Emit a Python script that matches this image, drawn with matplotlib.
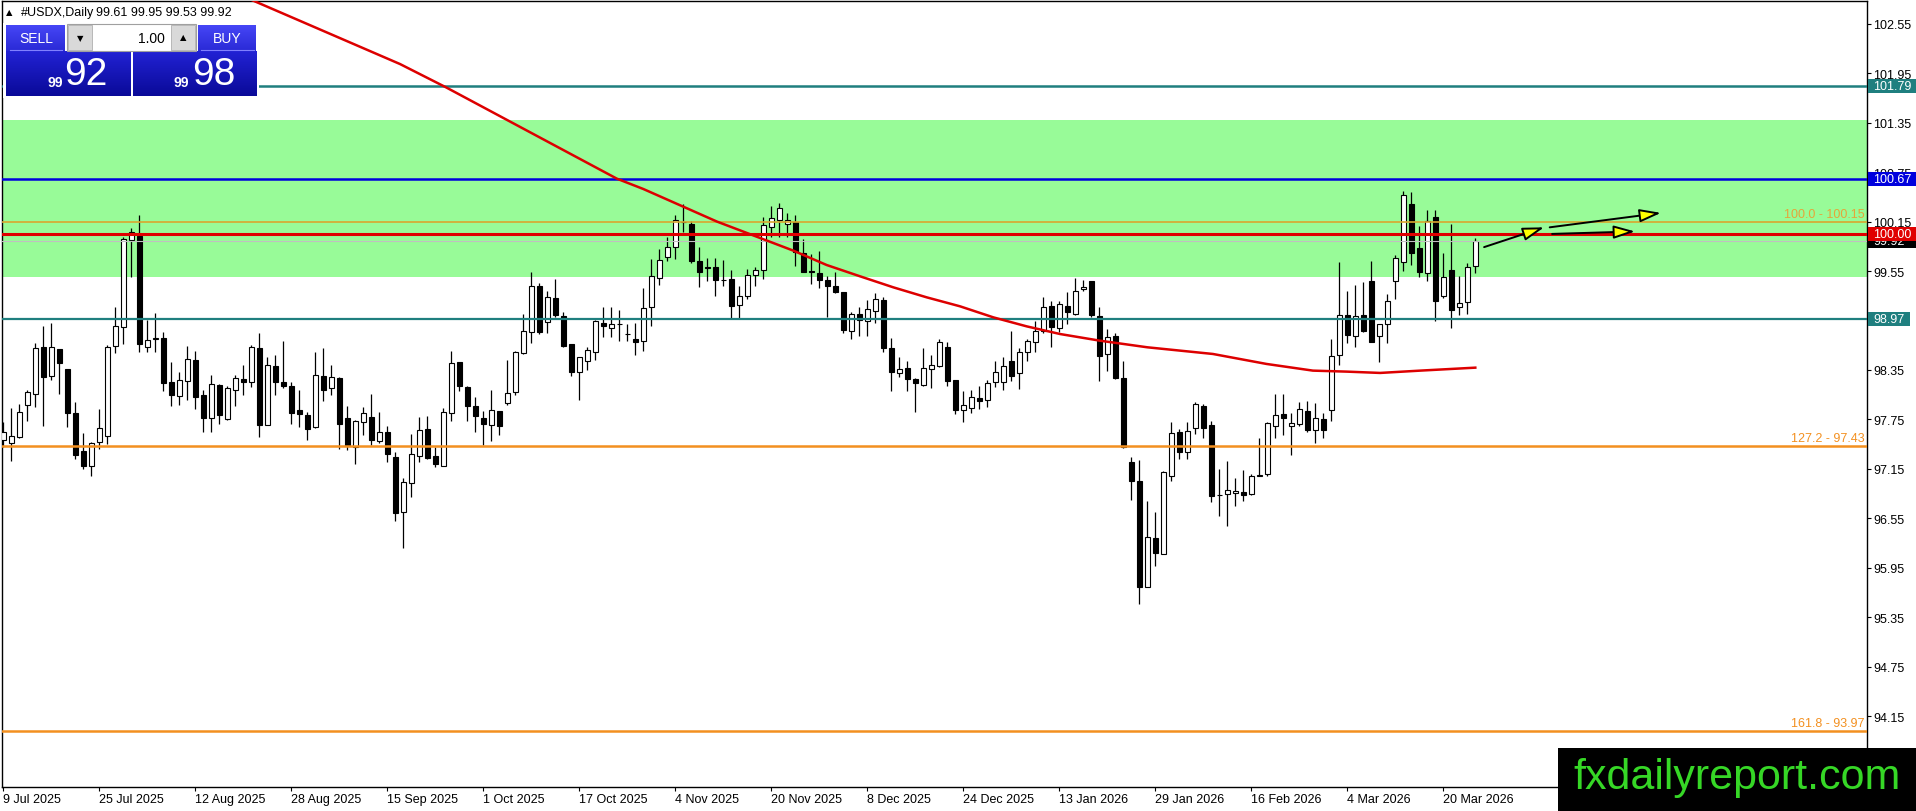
import numpy as np
import matplotlib
matplotlib.use('Agg')
import matplotlib.pyplot as plt
import matplotlib.transforms as mtransforms
from matplotlib.patches import Rectangle, FancyArrowPatch
from matplotlib.colors import LinearSegmentedColormap

plt.rcParams['font.family'] = ['Liberation Sans', 'DejaVu Sans']

# daily OHLC of #USDX, 9 Jul 2025 .. 26 Mar 2026
opens = [97.50, 97.46, 97.54, 97.93, 98.063, 98.625, 98.273, 98.604, 98.362, 97.828,
         97.367, 97.19, 97.472, 97.545, 98.637, 98.868, 99.927, 99.98, 98.625, 98.73,
         98.734, 98.20, 98.038, 98.212, 98.471, 98.046, 97.764, 98.168, 97.756, 98.111,
         98.241, 98.20, 98.613, 97.679, 98.398, 98.20, 98.156, 97.865, 97.808, 97.654,
         98.277, 98.128, 98.253, 97.764, 97.412, 97.723, 97.776, 97.493, 97.594, 97.291,
         96.624, 96.98, 97.303, 97.635, 97.303, 97.19, 97.824, 98.443, 98.14, 97.917,
         97.763, 97.687, 97.848, 97.945, 98.079, 98.552, 98.807, 99.364, 98.928, 99.219,
         99.009, 98.665, 98.321, 98.455, 98.564, 98.92, 98.855, 98.905, 98.782, 98.726,
         98.706, 99.11, 99.462, 99.724, 99.838, 100.15, 100.121, 99.668, 99.595, 99.595,
         99.445, 99.453, 99.142, 99.251, 99.502, 99.567, 100.08, 100.173, 100.121, 100.149,
         99.765, 99.545, 99.526, 99.441, 99.364, 99.30, 98.827, 99.029, 98.94, 99.069,
         99.199, 98.617, 98.309, 98.374, 98.241, 98.172, 98.362, 98.394, 98.625, 98.233,
         97.869, 97.885, 98.006, 97.99, 98.20, 98.208, 98.455, 98.309, 98.564, 98.685,
         98.819, 99.13, 98.855, 99.13, 99.029, 99.332, 99.425, 99.009, 98.544, 98.766,
         98.249, 97.23, 97.008, 95.722, 96.309, 96.119, 97.069, 97.594, 97.352, 97.643,
         97.917, 97.683, 96.83, 96.846, 96.858, 96.866, 96.846, 97.07, 97.089, 97.675,
         97.816, 97.667, 97.695, 97.849, 97.622, 97.756, 97.869, 98.536, 99.021, 98.767,
         99.021, 99.434, 98.767, 98.908, 99.426, 99.656, 100.364, 99.83, 99.523, 100.202,
         99.252, 99.563, 99.11, 99.171, 99.61]
highs = [97.72, 97.885, 97.94, 98.11, 98.677, 98.88, 98.92, 98.61, 98.362, 97.958,
         97.586, 97.48, 97.877, 98.653, 99.118, 99.96, 100.068, 100.23, 98.96, 99.041,
         98.807, 98.443, 98.321, 98.637, 98.584, 98.107, 98.289, 98.176, 98.16, 98.289,
         98.41, 98.653, 98.80, 98.503, 98.532, 98.705, 98.20, 98.107, 97.836, 98.564,
         98.612, 98.41, 98.26, 97.917, 97.74, 97.897, 98.059, 97.845, 97.667, 97.36,
         97.04, 97.574, 97.776, 97.788, 97.412, 97.885, 98.576, 98.45, 98.152, 98.018,
         97.857, 98.107, 97.85, 98.471, 98.576, 99.029, 99.534, 99.40, 99.312, 99.453,
         99.049, 98.665, 98.511, 98.625, 98.956, 99.118, 99.118, 99.082, 98.908, 98.92,
         99.34, 99.696, 99.817, 99.959, 100.234, 100.363, 100.153, 99.838, 99.704, 99.704,
         99.688, 99.567, 99.364, 99.575, 99.595, 100.201, 100.343, 100.375, 100.254, 100.23,
         99.938, 99.757, 99.797, 99.486, 99.542, 99.30, 99.057, 99.11, 99.199, 99.279,
         99.231, 98.738, 98.503, 98.455, 98.249, 98.613, 98.532, 98.726, 98.693, 98.233,
         98.099, 98.107, 98.152, 98.233, 98.463, 98.503, 98.827, 98.613, 98.726, 98.94,
         99.231, 99.191, 99.191, 99.292, 99.461, 99.445, 99.433, 99.11, 98.847, 98.799,
         98.455, 97.291, 97.263, 96.765, 96.624, 97.129, 97.715, 97.635, 97.715, 97.966,
         97.938, 97.736, 97.15, 97.251, 97.04, 97.141, 97.089, 97.525, 97.724, 98.059,
         98.059, 97.829, 97.958, 97.97, 97.95, 97.829, 98.726, 99.664, 99.312, 99.381,
         99.413, 99.668, 98.908, 99.272, 99.745, 100.517, 100.513, 100.093, 100.291, 100.291,
         99.769, 100.121, 99.486, 99.644, 99.95]
lows = [97.42, 97.24, 97.525, 97.735, 97.897, 97.675, 98.23, 98.06, 97.66, 97.27,
        97.149, 97.068, 97.392, 97.452, 98.552, 98.665, 99.482, 98.572, 98.564, 98.564,
        98.099, 97.917, 97.929, 97.99, 97.877, 97.594, 97.594, 97.695, 97.747, 97.909,
        98.046, 98.148, 97.533, 97.679, 98.046, 98.128, 97.695, 97.654, 97.505, 97.642,
        97.978, 98.046, 97.392, 97.384, 97.21, 97.561, 97.445, 97.461, 97.238, 96.523,
        96.187, 96.806, 97.238, 97.271, 97.17, 97.182, 97.727, 98.099, 97.735, 97.594,
        97.44, 97.484, 97.561, 97.929, 98.051, 98.544, 98.673, 98.783, 98.794, 98.989,
        98.625, 98.273, 97.99, 98.354, 98.475, 98.754, 98.754, 98.697, 98.697, 98.536,
        98.584, 98.887, 99.385, 99.676, 99.696, 100.019, 99.647, 99.36, 99.425, 99.251,
        99.373, 98.98, 98.98, 99.211, 99.364, 99.453, 99.959, 99.959, 99.959, 99.615,
        99.534, 99.393, 99.344, 98.989, 99.287, 98.799, 98.726, 98.758, 98.758, 98.916,
        98.564, 98.099, 98.261, 98.099, 97.836, 98.152, 98.131, 98.382, 98.16, 97.816,
        97.715, 97.828, 97.877, 97.905, 98.148, 98.107, 98.22, 98.119, 98.463, 98.572,
        98.799, 98.633, 98.807, 98.908, 99.017, 99.312, 98.989, 98.22, 98.342, 98.241,
        97.40, 96.777, 95.512, 95.714, 95.977, 96.119, 97.008, 97.271, 97.271, 97.574,
        97.525, 96.753, 96.575, 96.454, 96.705, 96.765, 96.834, 97.06, 97.069, 97.525,
        97.562, 97.323, 97.667, 97.594, 97.461, 97.525, 97.736, 98.411, 98.674, 98.633,
        98.807, 98.686, 98.451, 98.674, 99.211, 99.555, 99.624, 99.474, 99.434, 98.948,
        99.219, 98.856, 99.021, 99.029, 99.53]
closes = [97.60, 97.55, 97.84, 98.08, 98.613, 98.26, 98.625, 98.43, 97.824, 97.323,
          97.19, 97.46, 97.642, 98.625, 98.887, 99.939, 100.02, 98.666, 98.714, 98.735,
          98.188, 98.05, 98.232, 98.483, 98.026, 97.764, 98.18, 97.808, 98.131, 98.253,
          98.208, 98.625, 97.687, 98.41, 98.208, 98.16, 97.828, 97.816, 97.634, 98.289,
          98.111, 98.261, 97.699, 97.432, 97.735, 97.824, 97.505, 97.594, 97.331, 96.612,
          96.996, 97.327, 97.622, 97.279, 97.21, 97.837, 98.435, 98.152, 97.909, 97.796,
          97.695, 97.865, 97.675, 98.067, 98.564, 98.819, 99.364, 98.807, 99.231, 99.017,
          98.637, 98.33, 98.503, 98.596, 98.94, 98.879, 98.908, 98.91, 98.785, 98.693,
          99.098, 99.486, 99.688, 99.846, 100.169, 100.14, 99.676, 99.534, 99.59, 99.445,
          99.44, 99.13, 99.243, 99.506, 99.563, 100.108, 100.189, 100.31, 100.169, 99.777,
          99.542, 99.54, 99.445, 99.373, 99.292, 98.839, 99.029, 98.96, 99.09, 99.211,
          98.617, 98.33, 98.362, 98.241, 98.188, 98.37, 98.411, 98.685, 98.22, 97.869,
          97.929, 98.018, 97.978, 98.188, 98.329, 98.394, 98.281, 98.564, 98.706, 98.827,
          99.11, 98.867, 99.15, 99.049, 99.312, 99.352, 99.017, 98.515, 98.746, 98.249,
          97.412, 97.008, 95.714, 96.321, 96.131, 97.109, 97.582, 97.36, 97.606, 97.938,
          97.643, 96.818, 96.835, 96.895, 96.879, 96.838, 97.061, 97.077, 97.703, 97.804,
          97.764, 97.707, 97.877, 97.622, 97.764, 97.622, 98.516, 99.021, 98.779, 99.009,
          98.827, 98.686, 98.908, 99.191, 99.709, 100.473, 99.765, 99.535, 100.153, 99.191,
          99.474, 99.082, 99.159, 99.595, 99.92]

date_bars = [0, 12, 24, 36, 48, 60, 72, 84, 96, 108, 120, 132, 144, 156, 168, 180]
date_labels = ['9 Jul 2025', '25 Jul 2025', '12 Aug 2025', '28 Aug 2025', '15 Sep 2025',
               '1 Oct 2025', '17 Oct 2025', '4 Nov 2025', '20 Nov 2025', '8 Dec 2025',
               '24 Dec 2025', '13 Jan 2026', '29 Jan 2026', '16 Feb 2026', '4 Mar 2026',
               '20 Mar 2026']

# moving average (red)
ma_bars = [20, 31.7, 49.6, 55.3, 76.7, 80, 89.2, 94.59, 98.76, 102.92, 107.09, 111.26,
           115.42, 119.59, 123.76, 127.92, 132.09, 137.09, 143, 151.2, 157.9, 163.7,
           167.9, 172.1, 177.1, 184]
ma_vals = [103.3, 102.81, 102.06, 101.78, 100.67, 100.545, 100.15, 99.951, 99.797, 99.623,
           99.486, 99.352, 99.231, 99.122, 98.988, 98.879, 98.786, 98.705, 98.625, 98.544,
           98.423, 98.342, 98.33, 98.314, 98.342, 98.378]

yticks = [94.15, 94.75, 95.35, 95.95, 96.55, 97.15, 97.75, 98.35, 98.95, 99.55,
          100.15, 100.75, 101.35, 101.95, 102.55]

zone = (99.48, 101.38)
res_teal, res_blue, pivot_red, sup_teal = 101.79, 100.67, 100.00, 98.97
fib_100, fib_127, fib_161 = 100.15, 97.43, 93.97
bid = 99.92

# projection arrows (bar, price)
arrows = [((185.1, 99.84), (192.6, 100.08)),
          ((193.3, 100.08), (207.2, 100.255)),
          ((193.6, 100.0), (203.96, 100.03))]

TEAL = '#1f7f7f'
ORANGE = '#f39020'

fig = plt.figure(figsize=(19.16, 8.12), dpi=100)
ax = fig.add_axes([2 / 1916, 24 / 812, 1865 / 1916, 786 / 812])
ax.set_xlim(-0.16, 232.96)
ax.set_ylim(93.292, 102.825)

ax.axhspan(zone[0], zone[1], color='#98fb98', lw=0, zorder=0)

x = np.arange(len(opens))
o = np.array(opens); c = np.array(closes)
ax.vlines(x, lows, highs, color='black', lw=0.9, zorder=3)
bottoms = np.minimum(o, c)
heights = np.maximum(np.abs(c - o), 0.004)
colors = ['white' if cc >= oo else 'black' for oo, cc in zip(o, c)]
ax.bar(x, heights, bottom=bottoms, width=0.6, color=colors, edgecolor='black',
       linewidth=0.8, zorder=3.5)

ax.axhline(bid, color='#c0c0c0', lw=0.8, zorder=3.8)
ax.axhline(res_teal, color=TEAL, lw=1.8, zorder=4)
ax.axhline(res_blue, color='#0000dd', lw=1.8, zorder=4)
ax.axhline(fib_100, color='#d9a62e', lw=1.2, zorder=4)
ax.axhline(pivot_red, color='#e00000', lw=2.2, zorder=4)
ax.axhline(sup_teal, color=TEAL, lw=1.6, zorder=4)
ax.axhline(fib_127, color=ORANGE, lw=1.8, zorder=4)
ax.axhline(fib_161, color=ORANGE, lw=1.8, zorder=4)

ax.plot(ma_bars, ma_vals, color='#dd0000', lw=1.8, zorder=4.2)

for (x0, y0), (x1, y1) in arrows:
    ax.add_patch(FancyArrowPatch((x0, y0), (x1, y1),
                                 arrowstyle='-|>,head_length=1.3,head_width=0.4',
                                 mutation_scale=10, lw=1.4, edgecolor='black',
                                 facecolor='#ffff00', shrinkA=0, shrinkB=0, zorder=5))

fib_off = mtransforms.offset_copy(ax.transData, fig=fig, x=0, y=2, units='dots')
for val, txt, col in [(fib_100, '100.0 - 100.15', '#e5a53a'),
                      (fib_127, '127.2 - 97.43', ORANGE),
                      (fib_161, '161.8 - 93.97', ORANGE)]:
    ax.text(232.7, val, txt, color=col, fontsize=9, ha='right', va='bottom',
            transform=fib_off, zorder=5)

# axis styling
for s in ax.spines.values():
    s.set_color('black')
    s.set_linewidth(1)
ax.yaxis.tick_right()
ax.set_yticks(yticks)
ax.set_yticklabels([f'{v:.2f}' for v in yticks])
ax.set_xticks(date_bars)
ax.set_xticklabels(date_labels, ha='left')
ax.tick_params(axis='both', direction='out', length=3, width=0.8, labelsize=9,
               colors='black', pad=1.5)

# price labels on the right scale (later ones sit on top of earlier ones)
blend = mtransforms.blended_transform_factory(ax.transAxes, ax.transData)
box_h = 0.17
price_tags = [(bid, 'black', 0.0257), (res_teal, TEAL, 0.0257),
              (res_blue, '#0000dd', 0.0257), (pivot_red, '#e00000', 0.0257),
              (sup_teal, TEAL, 0.0225)]
for k, (val, col, w) in enumerate(price_tags):
    z = 6 + 2 * k
    ax.add_patch(Rectangle((1.0005, val - box_h / 2), w, box_h, transform=blend,
                           facecolor=col, edgecolor='none', clip_on=False, zorder=z))
    ax.text(1.0035, val, f'{val:.2f}', transform=blend, color='white', fontsize=9,
            ha='left', va='center', clip_on=False, zorder=z + 1)

# trading panel and header overlay (pixel coordinates)
ui = fig.add_axes([0, 0, 1, 1])
ui.set_zorder(10)
ui.patch.set_visible(False)
ui.axis('off')

head_cm = LinearSegmentedColormap.from_list('h', ['#4646f6', '#2a2ad6'])
body_cm = LinearSegmentedColormap.from_list('b', ['#2222d4', '#0a0a98'])
grad = np.linspace(0, 1, 64).reshape(-1, 1)

def gbox(x0, y0, x1, y1, cmap):
    ui.imshow(grad, cmap=cmap, extent=(x0, x1, y1, y0), aspect='auto',
              interpolation='bilinear', zorder=2)

ui.add_patch(Rectangle((3, 24), 256, 75, facecolor='white', edgecolor='none', zorder=1))
gbox(6, 26, 65, 52, head_cm)
gbox(198, 26, 256, 52, head_cm)
gbox(6, 52, 131, 97, body_cm)
gbox(133, 52, 257, 97, body_cm)
ui.plot([10, 62], [51, 51], color='#8080ff', lw=0.8, zorder=3)
ui.plot([201, 254], [51, 51], color='#8080ff', lw=0.8, zorder=3)
ui.add_patch(Rectangle((67, 25), 129, 27, facecolor='white', edgecolor='#a0a0a0',
                       lw=0.8, zorder=3))
ui.add_patch(Rectangle((68, 26), 24, 25, facecolor='#d9d9d9', edgecolor='#b0b0b0',
                       lw=0.6, zorder=4))
ui.add_patch(Rectangle((171, 26), 24, 25, facecolor='#d9d9d9', edgecolor='#b0b0b0',
                       lw=0.6, zorder=4))
ui.text(80, 39, '▼', fontsize=6, ha='center', va='center', color='black',
        family=['DejaVu Sans'], zorder=5)
ui.text(183, 38, '▲', fontsize=6, ha='center', va='center', color='black',
        family=['DejaVu Sans'], zorder=5)
ui.text(165, 39, '1.00', fontsize=10, ha='right', va='center', color='black', zorder=5)
ui.text(36, 39, 'SELL', fontsize=10, ha='center', va='center', color='white', zorder=5)
ui.text(227, 39, 'BUY', fontsize=10, ha='center', va='center', color='white', zorder=5)
ui.text(55, 83, '99', fontsize=10, fontweight='bold', ha='center', va='center',
        color='white', zorder=5)
ui.text(86, 75, '92', fontsize=28, ha='center', va='center', color='white', zorder=5)
ui.text(181, 83, '99', fontsize=10, fontweight='bold', ha='center', va='center',
        color='white', zorder=5)
ui.text(214, 75, '98', fontsize=28, ha='center', va='center', color='white', zorder=5)

ui.text(6, 13, '▲', fontsize=6, ha='left', va='center', color='black',
        family=['DejaVu Sans'], zorder=5)
ui.text(21, 13, '#USDX,Daily', fontsize=9, ha='left', va='center', color='black', zorder=5)
ui.text(96, 13, '99.61 99.95 99.53 99.92', fontsize=9, ha='left', va='center',
        color='black', zorder=5)

ui.add_patch(Rectangle((1558, 749), 358, 63, facecolor='black', edgecolor='none', zorder=5))
ui.text(1737, 778, 'fxdailyreport.com', fontsize=31, ha='center', va='center',
        color='#36d726', zorder=6)

ui.set_xlim(0, 1916)
ui.set_ylim(812, 0)

fig.savefig('out.png', dpi=100)
